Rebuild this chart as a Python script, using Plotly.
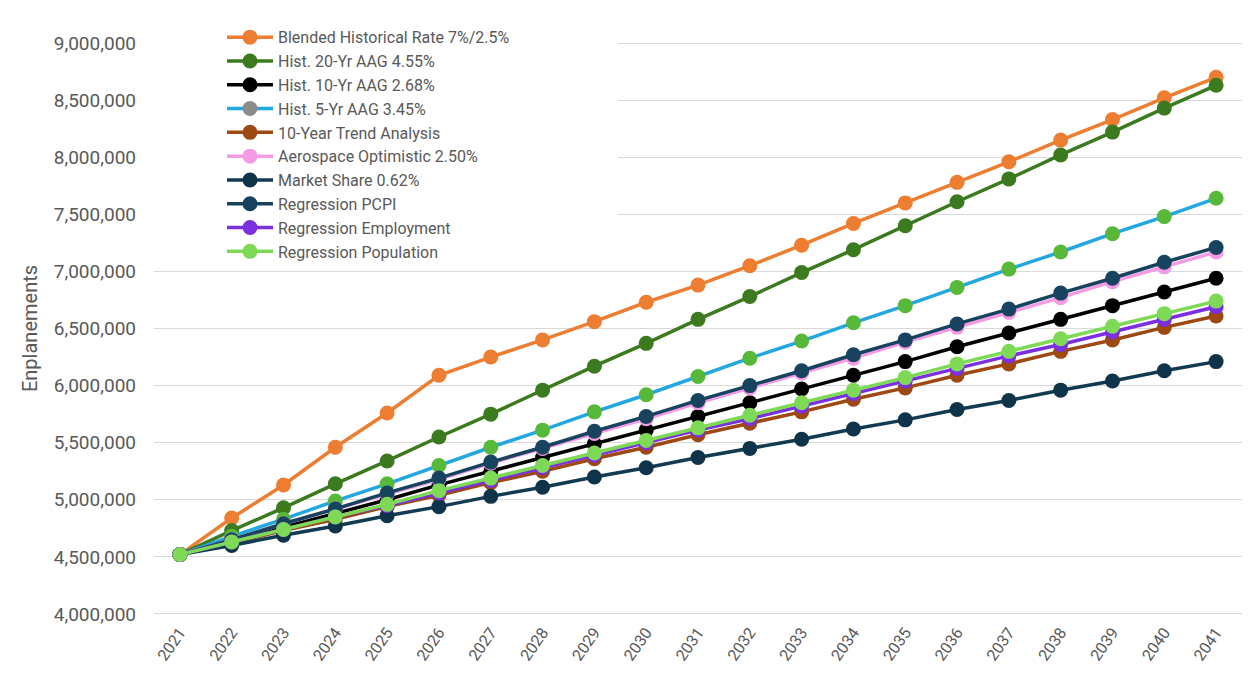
import plotly.graph_objects as go

years = [str(y) for y in range(2021, 2042)]

blended = [4520000, 4840000, 5130000, 5460000, 5760000, 6090000, 6250000, 6400000, 6560000, 6730000,
           6880000, 7050000, 7230000, 7420000, 7600000, 7780000, 7960000, 8150000, 8330000, 8520000, 8700000]
hist20 = [4520000, 4730000, 4930000, 5140000, 5340000, 5550000, 5750000, 5960000, 6170000, 6370000,
          6580000, 6780000, 6990000, 7190000, 7400000, 7610000, 7810000, 8020000, 8220000, 8430000, 8630000]
hist10 = [4520000, 4640000, 4760000, 4880000, 5000000, 5130000, 5250000, 5370000, 5490000, 5610000,
          5730000, 5850000, 5970000, 6090000, 6210000, 6340000, 6460000, 6580000, 6700000, 6820000, 6940000]
hist5 = [4520000, 4680000, 4830000, 4990000, 5140000, 5300000, 5460000, 5610000, 5770000, 5920000,
         6080000, 6240000, 6390000, 6550000, 6700000, 6860000, 7020000, 7170000, 7330000, 7480000, 7640000]
trend10 = [4520000, 4620000, 4730000, 4830000, 4940000, 5040000, 5150000, 5250000, 5360000, 5460000,
           5570000, 5670000, 5770000, 5880000, 5980000, 6090000, 6190000, 6300000, 6400000, 6510000, 6610000]
aerospace = [4520000, 4650000, 4790000, 4920000, 5050000, 5180000, 5320000, 5450000, 5580000, 5710000,
             5850000, 5980000, 6110000, 6240000, 6380000, 6510000, 6640000, 6770000, 6910000, 7040000, 7170000]
market_share = [4520000, 4600000, 4690000, 4770000, 4860000, 4940000, 5030000, 5110000, 5200000, 5280000,
                5370000, 5450000, 5530000, 5620000, 5700000, 5790000, 5870000, 5960000, 6040000, 6130000, 6210000]
reg_pcpi = [4520000, 4650000, 4790000, 4920000, 5060000, 5190000, 5330000, 5460000, 5600000, 5730000,
            5870000, 6000000, 6130000, 6270000, 6400000, 6540000, 6670000, 6810000, 6940000, 7080000, 7210000]
reg_employment = [4520000, 4630000, 4740000, 4850000, 4950000, 5060000, 5170000, 5280000, 5390000, 5500000,
                  5610000, 5710000, 5820000, 5930000, 6040000, 6150000, 6260000, 6360000, 6470000, 6580000, 6690000]
reg_population = [4520000, 4630000, 4740000, 4850000, 4960000, 5080000, 5190000, 5300000, 5410000, 5520000,
                  5630000, 5740000, 5850000, 5960000, 6070000, 6190000, 6300000, 6410000, 6520000, 6630000, 6740000]

series = [
    ("Blended Historical Rate 7%/2.5%", blended, "#ED7D31", "#ED7D31"),
    ("Hist. 20-Yr AAG 4.55%", hist20, "#3B7A1E", "#3B7A1E"),
    ("Hist. 10-Yr AAG 2.68%", hist10, "#000000", "#000000"),
    ("Hist. 5-Yr AAG 3.45%", hist5, "#22A7E0", "#58B83A"),
    ("10-Year Trend Analysis", trend10, "#9E4812", "#9E4812"),
    ("Aerospace Optimistic 2.50%", aerospace, "#F59BE6", "#F59BE6"),
    ("Market Share 0.62%", market_share, "#123A52", "#0F3349"),
    ("Regression PCPI", reg_pcpi, "#17435F", "#17435F"),
    ("Regression Employment", reg_employment, "#7B2FE0", "#7B2FE0"),
    ("Regression Population", reg_population, "#7ED957", "#7ED957"),
]

W, H = 1247, 670
L, R, T, B = 146, 13, 27, 63
PW, PH = W - L - R, H - T - B

fig = go.Figure()
for name, vals, lc, mc in series:
    if name.startswith("Hist. 5-Yr"):
        fig.add_trace(go.Scatter(
            x=years, y=vals, mode="lines+markers", name=name, showlegend=False,
            line=dict(color=lc, width=3.5),
            marker=dict(color=mc, size=15, line=dict(width=0)),
        ))
        fig.add_trace(go.Scatter(
            x=[None], y=[None], mode="lines+markers", name=name,
            line=dict(color=lc, width=3.5),
            marker=dict(color="#8C8C8C", size=15, line=dict(width=0)),
        ))
    else:
        fig.add_trace(go.Scatter(
            x=years, y=vals, mode="lines+markers", name=name,
            line=dict(color=lc, width=3.5),
            marker=dict(color=mc, size=15, line=dict(width=0)),
        ))

fig.update_layout(
    width=W, height=H,
    margin=dict(l=L, r=R, t=T, b=B),
    paper_bgcolor="white", plot_bgcolor="white",
    font=dict(family="Roboto", color="#595959", size=16),
    showlegend=True,
    legend=dict(
        x=(214 - L) / PW, y=1.0 + (T - 5) / PH,
        xanchor="left", yanchor="top",
        bgcolor="rgba(0,0,0,0)", borderwidth=0,
        font=dict(family="Roboto", size=16, color="#595959"),
        itemwidth=46, tracegroupgap=0,
    ),
    shapes=[dict(
        type="rect", xref="paper", yref="paper", layer="above",
        x0=-0.01, x1=(610 - L) / PW,
        y0=(H - B - 254) / PH, y1=1.05,
        fillcolor="white", line=dict(width=0),
    )],
    xaxis=dict(
        type="category", range=[-0.5, 20.5],
        showgrid=False, showline=False, zeroline=False,
        tickangle=-55, tickfont=dict(size=16, color="#595959"),
        ticks="", ticklabelstandoff=4,
    ),
    yaxis=dict(
        range=[3991000, 9009000], dtick=500000, tick0=0, tickformat=",",
        showgrid=True, gridcolor="#D9D9D9", gridwidth=1,
        zeroline=False, showline=False,
        tickfont=dict(size=19, color="#595959"),
        ticks="", ticklabelstandoff=17,
        title=dict(text="Enplanements", font=dict(size=20, color="#595959"), standoff=10),
    ),
)

fig.write_html("out.html")
